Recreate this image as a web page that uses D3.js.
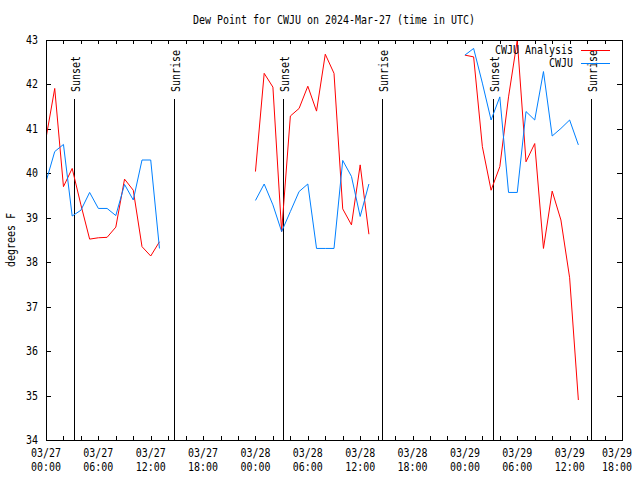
<!DOCTYPE html>
<html>
<head>
<meta charset="utf-8">
<script src="https://cdn.jsdelivr.net/npm/d3@7"></script>
<style>
  body { margin: 0; background: #fff; }
  svg text { font-family: "DejaVu Sans Mono", "Liberation Mono", monospace; font-size: 12px; fill: #000; }
</style>
</head>
<body>
<svg id="chart" width="640" height="480"></svg>
<script>
// ---- data (hours since 2024-03-27 00:00 UTC) ----
const hours = [0,1,2,3,4,5,6,7,8,9,10,11,12,13,
               24,25,26,27,28,29,30,31,32,33,34,35,36,37,
               48,49,50,51,52,53,54,55,56,57,58,59,60,61];
const segment = [0,0,0,0,0,0,0,0,0,0,0,0,0,0,
                 1,1,1,1,1,1,1,1,1,1,1,1,1,1,
                 2,2,2,2,2,2,2,2,2,2,2,2,2,2];
const analysis = [40.79,41.91,39.70,40.11,39.29,38.52,38.55,38.56,38.79,39.87,39.62,38.35,38.14,38.46,
                  40.04,42.25,41.94,38.69,41.29,41.46,41.96,41.40,42.68,42.25,39.20,38.84,40.19,38.63,
                  42.66,42.62,40.60,39.62,40.15,41.72,43.00,40.26,40.67,38.31,39.60,38.95,37.65,34.90];
const observed = [39.81,40.49,40.65,39.04,39.17,39.57,39.21,39.21,39.05,39.75,39.40,40.30,40.30,38.31,
                  39.39,39.76,39.29,38.69,39.14,39.59,39.76,38.31,38.31,38.31,40.29,39.93,39.03,39.76,
                  42.66,42.81,42.03,41.20,41.72,39.57,39.57,41.39,41.20,42.29,40.84,41.01,41.20,40.64];
const sunsetHours = [3.21, 27.19, 51.26];
const sunriseHours = [14.70, 38.54, 62.45];
const xTickLabels = [["03/27","00:00"],["03/27","06:00"],["03/27","12:00"],["03/27","18:00"],
                     ["03/28","00:00"],["03/28","06:00"],["03/28","12:00"],["03/28","18:00"],
                     ["03/29","00:00"],["03/29","06:00"],["03/29","12:00"],["03/29","18:00"]];
const yTicks = [34,35,36,37,38,39,40,41,42,43];
const seriesNames = ["CWJU Analysis", "CWJU"];
const seriesColors = ["#ff0000", "#0080ff"];
const titleText = "Dew Point for CWJU on 2024-Mar-27 (time in UTC)";
const yLabel = "degrees F";

// ---- layout ----
const L = 46, R = 622, T = 40, B = 440;
const CW = 6; // character width of the mono font
const svg = d3.select("#chart");
const x = d3.scaleLinear().domain([0, 66]).range([L, R]);
const y = d3.scaleLinear().domain([34, 43]).range([B, T]);

function txt(g, s, attrs) {
  const t = g.append("text").text(s)
    .attr("textLength", s.length * CW).attr("lengthAdjust", "spacingAndGlyphs");
  for (const k in attrs) t.attr(k, attrs[k]);
  return t;
}

// title
txt(svg, titleText, {x: (L + R) / 2, y: 24, "text-anchor": "middle"});

// y label
txt(svg, yLabel, {transform: `translate(15,${(T + B) / 2}) rotate(-90)`, "text-anchor": "middle"});

// ticks: y
const tickLen = 5;
yTicks.forEach(v => {
  const yy = Math.round(y(v)) + 0.5;
  svg.append("line").attr("x1", L).attr("x2", L + tickLen).attr("y1", yy).attr("y2", yy).attr("stroke", "#000");
  svg.append("line").attr("x1", R - tickLen).attr("x2", R).attr("y1", yy).attr("y2", yy).attr("stroke", "#000");
  txt(svg, String(v), {x: 38, y: y(v) + 4, "text-anchor": "end"});
});

// ticks: x every 2 hours
d3.range(0, 67, 2).forEach(h => {
  const xx = Math.round(x(h)) + 0.5;
  svg.append("line").attr("x1", xx).attr("x2", xx).attr("y1", B).attr("y2", B - 4).attr("stroke", "#000");
  svg.append("line").attr("x1", xx).attr("x2", xx).attr("y1", T).attr("y2", T + 4).attr("stroke", "#000");
});
xTickLabels.forEach((lab, i) => {
  const half = lab[0].length * CW / 2;
  const xx = Math.min(x(i * 6), 632 - half);
  txt(svg, lab[0], {x: xx, y: 457, "text-anchor": "middle"});
  txt(svg, lab[1], {x: xx, y: 471, "text-anchor": "middle"});
});

// sunset / sunrise markers
function sunMarker(h, label) {
  const xx = Math.round(x(h)) + 0.5;
  svg.append("line").attr("x1", xx).attr("x2", xx).attr("y1", 99).attr("y2", B).attr("stroke", "#000");
  txt(svg, label, {transform: `translate(${xx + 5},92) rotate(-90)`, "text-anchor": "start"});
}
sunsetHours.forEach(h => sunMarker(h, "Sunset"));
sunriseHours.forEach(h => sunMarker(h, "Sunrise"));

// data lines
const clip = svg.append("clipPath").attr("id", "plotclip").append("rect")
  .attr("x", L).attr("y", T).attr("width", R - L).attr("height", B - T);
[analysis, observed].forEach((vals, si) => {
  d3.range(3).forEach(seg => {
    const pts = hours.map((h, i) => ({h, v: vals[i], s: segment[i]})).filter(d => d.s === seg);
    const line = d3.line().x(d => x(d.h)).y(d => y(d.v));
    svg.append("path").attr("d", line(pts)).attr("fill", "none")
      .attr("stroke", seriesColors[si]).attr("stroke-width", 1)
      .attr("clip-path", "url(#plotclip)");
  });
});

// legend
seriesNames.forEach((name, i) => {
  const yy = 50 + i * 12.5;
  txt(svg, name, {x: 573, y: yy + 4, "text-anchor": "end"});
  svg.append("line").attr("x1", 581).attr("x2", 610).attr("y1", Math.round(yy) + 0.5).attr("y2", Math.round(yy) + 0.5)
    .attr("stroke", seriesColors[i]).attr("stroke-width", 1);
});

// border
svg.append("rect").attr("x", L + 0.5).attr("y", T + 0.5).attr("width", R - L).attr("height", B - T)
  .attr("fill", "none").attr("stroke", "#000");
</script>
</body>
</html>
